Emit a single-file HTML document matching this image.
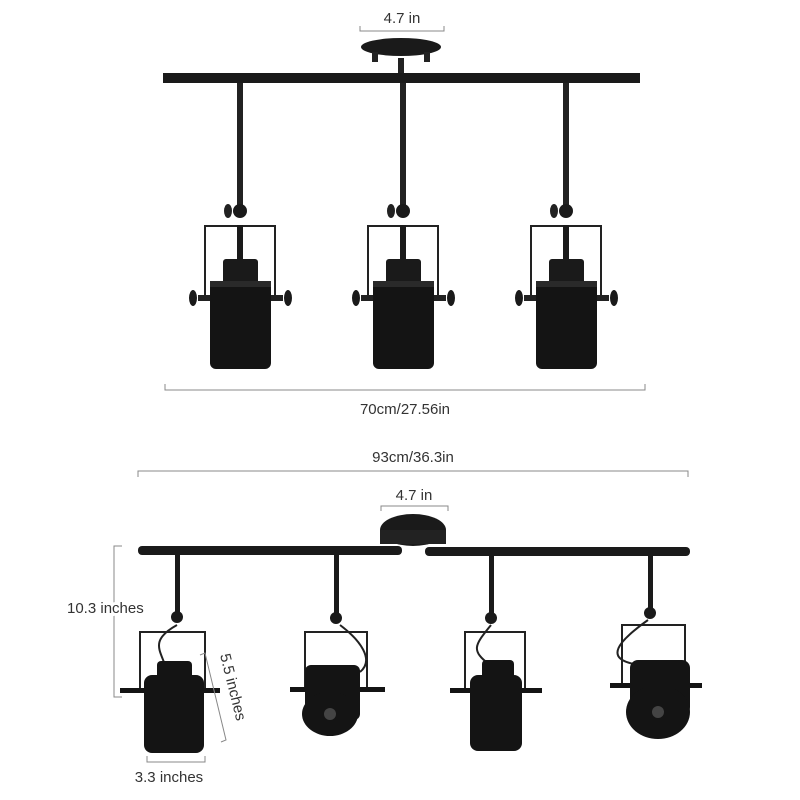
<!DOCTYPE html>
<html><head><style>
body{margin:0;background:#fff;width:800px;height:800px;overflow:hidden}
svg{display:block}
text{font-family:"Liberation Sans",sans-serif;fill:#333;font-size:15px}
</style></head><body>
<svg width="800" height="800" viewBox="0 0 800 800">
<defs>
<g id="lampV">
 <rect x="-3" y="0" width="6" height="130" fill="#222"/>
 <circle cx="0" cy="128" r="7" fill="#1a1a1a"/>
 <ellipse cx="-12" cy="128" rx="4" ry="7" fill="#222"/>
 <rect x="-36" y="142" width="72" height="2" fill="#222"/>
 <rect x="-36" y="142" width="2" height="74" fill="#222"/>
 <rect x="34" y="142" width="2" height="74" fill="#222"/>
 <rect x="-3" y="142" width="6" height="35" fill="#1a1a1a"/>
 <rect x="-17" y="176" width="35" height="26" rx="3" fill="#1a1a1a"/>
 <rect x="-30" y="198" width="61" height="88" rx="6" fill="#141414"/>
 <rect x="-30" y="198" width="61" height="6" fill="#2a2a2a"/>
 <rect x="-42" y="212" width="12" height="6" fill="#222"/>
 <rect x="31" y="212" width="12" height="6" fill="#222"/>
 <ellipse cx="-47" cy="215" rx="4" ry="8" fill="#1a1a1a"/>
 <ellipse cx="48" cy="215" rx="4" ry="8" fill="#1a1a1a"/>
</g>
</defs>

<!-- top -->
<text x="402" y="23" text-anchor="middle" font-size="16">4.7 in</text>
<path d="M360 26V31H444V26" fill="none" stroke="#888" stroke-width="1"/>
<ellipse cx="401" cy="47" rx="40" ry="9" fill="#1a1a1a"/>
<rect x="372" y="52" width="6" height="10" fill="#222"/>
<rect x="424" y="52" width="6" height="10" fill="#222"/>
<rect x="163" y="73" width="477" height="10" fill="#1a1a1a"/>
<rect x="398" y="58" width="6" height="15" fill="#222"/>
<use href="#lampV" transform="translate(240,83)"/>
<use href="#lampV" transform="translate(403,83)"/>
<use href="#lampV" transform="translate(566,83)"/>
<path d="M165 384V390H645V384" fill="none" stroke="#888" stroke-width="1"/>
<text x="405" y="414" text-anchor="middle" font-size="16">70cm/27.56in</text>

<!-- bottom -->
<text x="413" y="462" text-anchor="middle" font-size="16">93cm/36.3in</text>
<path d="M138 477V471H688V477" fill="none" stroke="#888" stroke-width="1"/>
<text x="414" y="500" text-anchor="middle" font-size="16">4.7 in</text>
<path d="M381 511V506H448V511" fill="none" stroke="#888" stroke-width="1"/>
<ellipse cx="413" cy="530" rx="33" ry="16" fill="#1a1a1a"/>
<rect x="380" y="530" width="66" height="14" fill="#222"/>
<rect x="138" y="546" width="264" height="9" rx="4" fill="#1a1a1a"/>
<rect x="425" y="547" width="265" height="9" rx="4" fill="#1a1a1a"/>

<g fill="#1a1a1a">
 <!-- stems -->
 <rect x="175" y="555" width="5" height="60"/><circle cx="177" cy="617" r="6"/>
 <rect x="334" y="555" width="5" height="62"/><circle cx="336" cy="618" r="6"/>
 <rect x="489" y="555" width="5" height="62"/><circle cx="491" cy="618" r="6"/>
 <rect x="648" y="555" width="5" height="55"/><circle cx="650" cy="613" r="6"/>
</g>
<g fill="none" stroke="#222" stroke-width="2">
 <path d="M140 690V632H205V690"/>
 <path d="M305 690V632H367V690"/>
 <path d="M465 690V632H525V690"/>
 <path d="M622 685V625H685V685"/>
 <path d="M177 625C150 640 160 650 165 665"/>
 <path d="M340 625C360 640 375 660 360 672"/>
 <path d="M491 625C475 645 470 650 490 665"/>
 <path d="M648 620C620 640 600 660 640 665"/>
</g>
<g fill="#141414">
 <!-- lamp1 -->
 <rect x="157" y="661" width="35" height="20" rx="4"/>
 <rect x="144" y="675" width="60" height="78" rx="8"/>
 <rect x="120" y="688" width="100" height="5"/>
 <!-- lamp2 -->
 <rect x="305" y="665" width="55" height="55" rx="6"/>
 <ellipse cx="330" cy="714" rx="28" ry="22"/>
 <rect x="290" y="687" width="95" height="5"/>
 <!-- lamp3 -->
 <rect x="482" y="660" width="32" height="20" rx="4"/>
 <rect x="470" y="675" width="52" height="76" rx="8"/>
 <rect x="450" y="688" width="92" height="5"/>
 <!-- lamp4 -->
 <rect x="630" y="660" width="60" height="55" rx="8"/>
 <ellipse cx="658" cy="712" rx="32" ry="27"/>
 <rect x="610" y="683" width="92" height="5"/>
</g>
<circle cx="330" cy="714" r="6" fill="#444"/>
<circle cx="658" cy="712" r="6" fill="#444"/>

<path d="M122 546H114V697H122" fill="none" stroke="#888" stroke-width="1"/>
<text x="67" y="613" font-size="15" style="paint-order:stroke" stroke="#fff" stroke-width="6">10.3 inches</text>
<path d="M200 655L205 653L226 740L221 742" fill="none" stroke="#888" stroke-width="1"/>
<text x="0" y="0" font-size="15" transform="translate(220,655) rotate(76)">5.5 inches</text>
<path d="M147 756V762H205V756" fill="none" stroke="#888" stroke-width="1"/>
<text x="169" y="782" text-anchor="middle" font-size="15">3.3 inches</text>
</svg>
</body></html>
